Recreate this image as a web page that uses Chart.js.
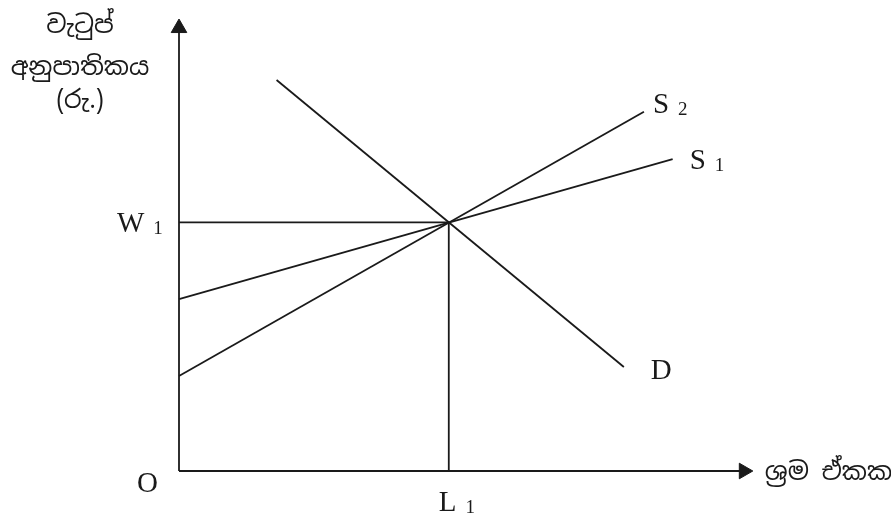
<!DOCTYPE html>
<html><head><meta charset="utf-8">
<script src="https://cdn.jsdelivr.net/npm/chart.js@4"></script>
<style>html,body{margin:0;padding:0;background:#fff}canvas{display:block}</style>
</head><body>
<canvas id="c" width="891" height="516"></canvas>
<script>
// ---- data (diagram units: x 0..100, y 0..100) ----
const W1 = 55;          // equilibrium wage
const L1 = 47;          // equilibrium labour
const S1 = [[0, 38], [86, 69]];
const S2 = [[0, 21], [81, 79.5]];
const D  = [[17, 86.5], [77.5, 23]];
const xAxisEnd = 98.4, yAxisEnd = 98;
const yTitle = ['වැටුප්', 'අනුපාතිකය', '(රු.)'];
const xTitle = 'ශ්‍රම ඒකක';
const labels = { w: 'W', l: 'L', o: 'O', s1: 'S', s2: 'S', d: 'D', sub1: '1', sub2: '2' };

const ink = '#1a1a1a';
const pts = a => a.map(p => ({ x: p[0], y: p[1] }));
const line = (data, extra) => Object.assign({
  data, showLine: true, borderColor: ink, borderWidth: 1.8, pointRadius: 0,
  fill: false, clip: false, tension: 0
}, extra || {});

const serif = '"Liberation Serif", "Times New Roman", serif';
const sinhala = '"Noto Sans Sinhala", "Noto Serif Sinhala", "Iskoola Pota", "Noto Sans", sans-serif';

const textPlugin = {
  id: 'texts',
  afterDatasetsDraw(chart) {
    const { ctx, scales: { x, y } } = chart;
    const X = v => x.getPixelForValue(v), Y = v => y.getPixelForValue(v);
    ctx.save();
    ctx.fillStyle = ink;
    ctx.textBaseline = 'alphabetic';
    const big = '29px ' + serif, small = '19px ' + serif;
    const sub = (main, s, px, base) => {
      ctx.font = big;
      ctx.textAlign = 'left';
      ctx.fillText(main, px, base);
      const w = ctx.measureText(main).width;
      ctx.font = small;
      ctx.fillText(s, px + w + 9, base + 2);
    };
    // axis labels
    sub(labels.w, labels.sub1, X(0) - 62, Y(W1) + 10);
    sub(labels.l, labels.sub1, X(L1) - 10, Y(0) + 40);
    ctx.font = big; ctx.textAlign = 'left';
    ctx.fillText(labels.o, X(0) - 42, Y(0) + 21);
    // curve labels
    sub(labels.s2, labels.sub2, X(S2[1][0]) + 9, Y(S2[1][1]) + 1);
    sub(labels.s1, labels.sub1, X(S1[1][0]) + 17, Y(S1[1][1]) + 10);
    ctx.font = big; ctx.textAlign = 'left';
    ctx.fillText(labels.d, X(D[1][0]) + 27, Y(D[1][1]) + 12);
    // axis titles
    ctx.font = '25px ' + sinhala;
    ctx.textAlign = 'center';
    ctx.fillText(yTitle[0], 80, 33);
    ctx.fillText(yTitle[1], 80, 75);
    ctx.fillText(yTitle[2], 80, 108);
    ctx.textAlign = 'left';
    ctx.fillText(xTitle, X(xAxisEnd) + 21, Y(0) + 9);
    ctx.restore();
  }
};

new Chart(document.getElementById('c'), {
  type: 'scatter',
  data: {
    datasets: [
      line(pts([[0, 0], [0, yAxisEnd]]), { pointRadius: [0, 9], pointStyle: 'triangle',
        pointBackgroundColor: ink, pointBorderColor: ink, pointBorderWidth: 1 }),
      line(pts([[0, 0], [xAxisEnd, 0]]), { pointRadius: [0, 9], pointStyle: 'triangle',
        pointRotation: 90, pointBackgroundColor: ink, pointBorderColor: ink, pointBorderWidth: 1 }),
      line(pts([[0, W1], [L1, W1]])),
      line(pts([[L1, 0], [L1, W1]])),
      line(pts(S1)),
      line(pts(S2)),
      line(pts(D))
    ]
  },
  options: {
    responsive: false,
    animation: false,
    events: [],
    layout: { padding: { left: 179, right: 138, top: 19, bottom: 45 } },
    plugins: { legend: { display: false }, tooltip: { enabled: false } },
    scales: {
      x: { type: 'linear', min: 0, max: 100, display: false },
      y: { type: 'linear', min: 0, max: 100, display: false }
    }
  },
  plugins: [textPlugin]
});
</script>
</body></html>
